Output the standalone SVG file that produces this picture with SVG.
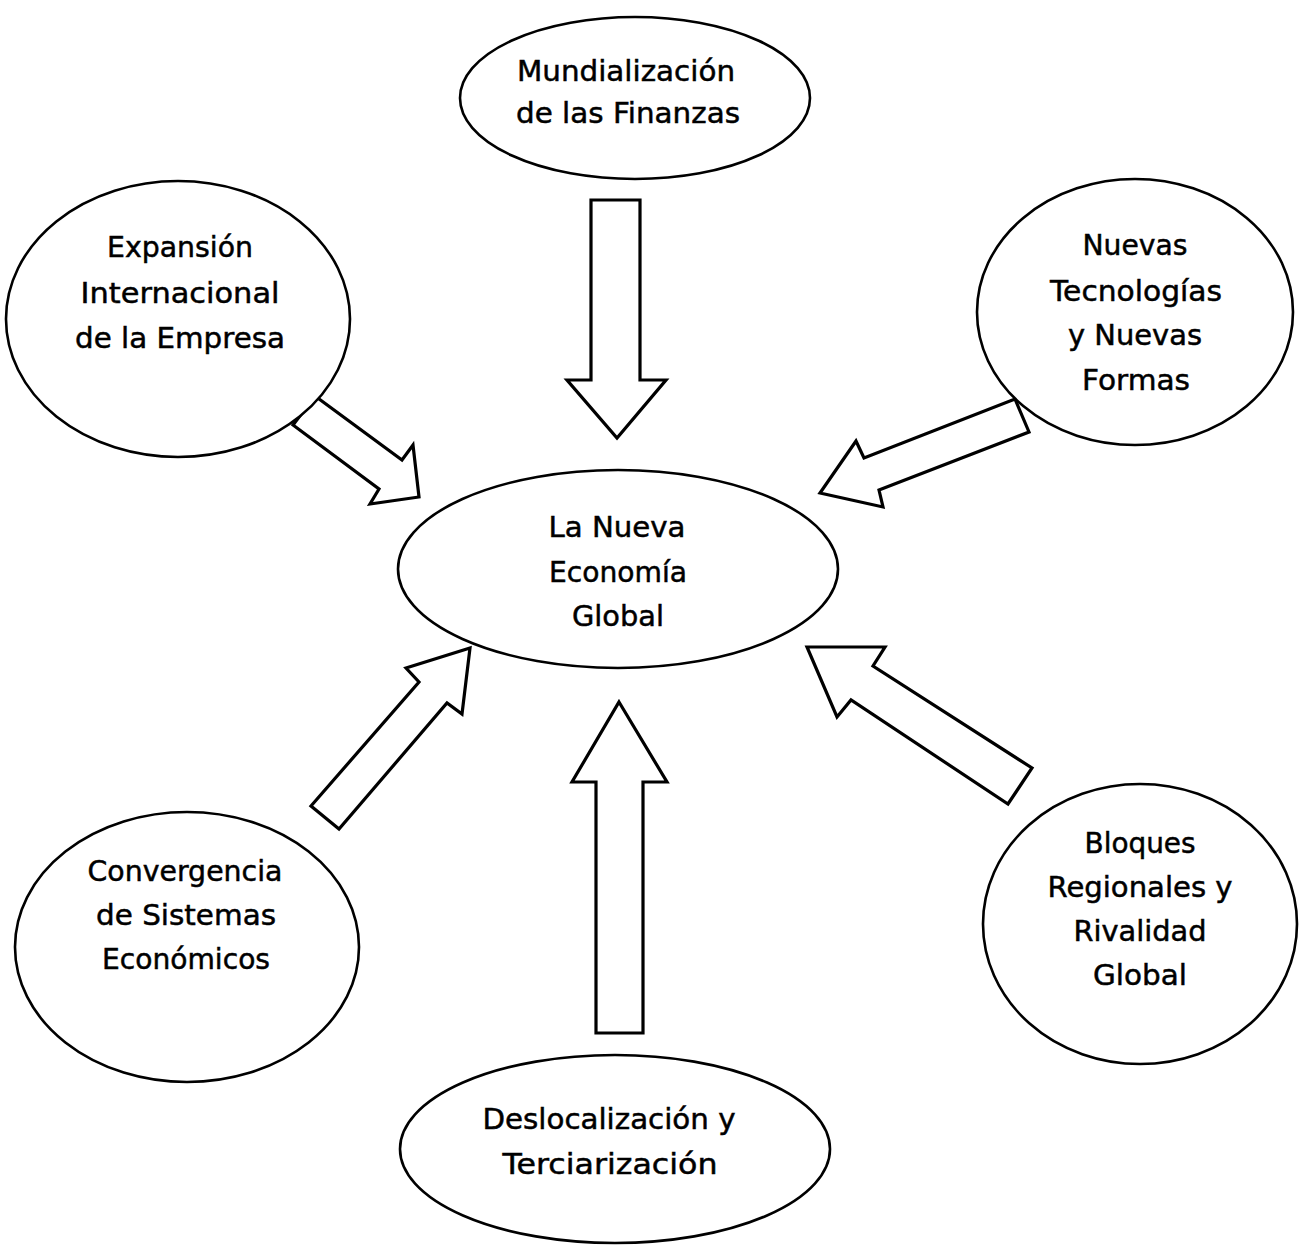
<svg xmlns="http://www.w3.org/2000/svg" width="1303" height="1245" viewBox="0 0 1303 1245">
  <style>
    .node ellipse { fill: #ffffff; stroke: #000000; stroke-width: 2.6; }
    .node text { font-family: "DejaVu Sans", "Liberation Sans", sans-serif; font-size: 29px; fill: #000000; stroke: #000000; stroke-width: 0.5; }
    .arrow { fill: #ffffff; stroke: #000000; stroke-width: 3.2; stroke-linejoin: miter; }
  </style>
  <rect width="1303" height="1245" fill="#ffffff"/>

  <!-- block arrows pointing at the central node -->
  <g id="connectors">
    <polygon class="arrow" points="591,200 640,200 640,380 666,380 617,438 567,380 591,380"/>
    <polygon class="arrow" points="315,396 402,460 413,445 419,497 370,504 379,489 293,425"/>
    <polygon class="arrow" points="1015,399 1029,432 879,490 883,507 820,493 856,441 864,458"/>
    <polygon class="arrow" points="470,648 462,714 447,703 339,829 311,806 419,682 406,668"/>
    <polygon class="arrow" points="807,647 885,647 873,666 1032,768 1008,804 851,700 837,717"/>
    <polygon class="arrow" points="619,702 667,782 643,782 643,1033 596,1033 596,782 572,782"/>
  </g>

  <g id="node-finanzas" class="node">
    <ellipse cx="635" cy="98" rx="175" ry="81"/>
    <text x="626" y="81" text-anchor="middle" textLength="218" lengthAdjust="spacingAndGlyphs">Mundialización</text>
    <text x="628" y="123" text-anchor="middle" textLength="224" lengthAdjust="spacingAndGlyphs">de las Finanzas</text>
  </g>

  <g id="node-expansion" class="node">
    <ellipse cx="178" cy="319" rx="172" ry="138"/>
    <text x="180" y="257" text-anchor="middle" textLength="146" lengthAdjust="spacingAndGlyphs">Expansión</text>
    <text x="180" y="303" text-anchor="middle" textLength="199" lengthAdjust="spacingAndGlyphs">Internacional</text>
    <text x="180" y="348" text-anchor="middle" textLength="210" lengthAdjust="spacingAndGlyphs">de la Empresa</text>
  </g>

  <g id="node-tecnologias" class="node">
    <ellipse cx="1135" cy="312" rx="158" ry="133"/>
    <text x="1135" y="255" text-anchor="middle" textLength="105" lengthAdjust="spacingAndGlyphs">Nuevas</text>
    <text x="1136" y="301" text-anchor="middle" textLength="172" lengthAdjust="spacingAndGlyphs">Tecnologías</text>
    <text x="1135" y="345" text-anchor="middle" textLength="134" lengthAdjust="spacingAndGlyphs">y Nuevas</text>
    <text x="1136" y="390" text-anchor="middle" textLength="108" lengthAdjust="spacingAndGlyphs">Formas</text>
  </g>

  <g id="node-economia" class="node">
    <ellipse cx="618" cy="569" rx="220" ry="99"/>
    <text x="617" y="537" text-anchor="middle" textLength="137" lengthAdjust="spacingAndGlyphs">La Nueva</text>
    <text x="618" y="582" text-anchor="middle" textLength="138" lengthAdjust="spacingAndGlyphs">Economía</text>
    <text x="618" y="626" text-anchor="middle" textLength="92" lengthAdjust="spacingAndGlyphs">Global</text>
  </g>

  <g id="node-convergencia" class="node">
    <ellipse cx="187" cy="947" rx="172" ry="135"/>
    <text x="185" y="881" text-anchor="middle" textLength="195" lengthAdjust="spacingAndGlyphs">Convergencia</text>
    <text x="186" y="925" text-anchor="middle" textLength="180" lengthAdjust="spacingAndGlyphs">de Sistemas</text>
    <text x="186" y="969" text-anchor="middle" textLength="168" lengthAdjust="spacingAndGlyphs">Económicos</text>
  </g>

  <g id="node-bloques" class="node">
    <ellipse cx="1140" cy="924" rx="157" ry="140"/>
    <text x="1140" y="853" text-anchor="middle" textLength="111" lengthAdjust="spacingAndGlyphs">Bloques</text>
    <text x="1140" y="897" text-anchor="middle" textLength="185" lengthAdjust="spacingAndGlyphs">Regionales y</text>
    <text x="1140" y="941" text-anchor="middle" textLength="133" lengthAdjust="spacingAndGlyphs">Rivalidad</text>
    <text x="1140" y="985" text-anchor="middle" textLength="94" lengthAdjust="spacingAndGlyphs">Global</text>
  </g>

  <g id="node-deslocalizacion" class="node">
    <ellipse cx="615" cy="1149" rx="215" ry="94"/>
    <text x="609" y="1129" text-anchor="middle" textLength="253" lengthAdjust="spacingAndGlyphs">Deslocalización y</text>
    <text x="610" y="1174" text-anchor="middle" textLength="215" lengthAdjust="spacingAndGlyphs">Terciarización</text>
  </g>
</svg>
